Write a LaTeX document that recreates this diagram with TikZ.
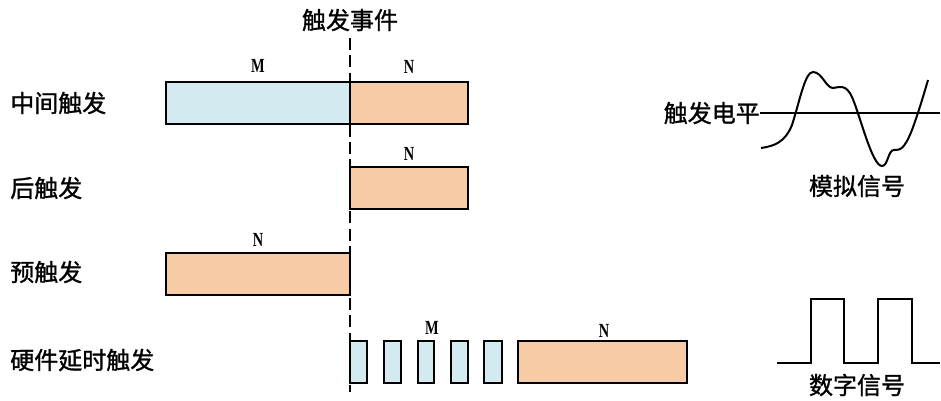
\documentclass[tikz,border=0pt]{standalone}
\usepackage{fontspec}
\newfontfamily\cjk[FakeBold=1.2]{Noto Sans CJK SC}
\setmainfont{Liberation Serif}
\newfontfamily\mnfont[FakeStretch=0.72]{Liberation Serif}
\begin{document}
\begin{tikzpicture}[x=0.75pt,y=-0.75pt,
  lbl/.style={font=\cjk\fontsize{18}{20}\selectfont, inner sep=0pt},
  ltr/.style={font=\mnfont\bfseries\fontsize{15}{16}\selectfont, inner sep=0pt},
  mblk/.style={draw=black, line width=1.4pt, fill=mblue, inner sep=0pt},
  nblk/.style={draw=black, line width=1.4pt, fill=norange, inner sep=0pt},
  sig/.style={line width=1.5pt}]
\definecolor{mblue}{HTML}{D2EAF0}
\definecolor{norange}{HTML}{F8CBA7}
\useasboundingbox (0,0) rectangle (941,400);
% row 1
\node[mblk, minimum width=184*0.75pt, minimum height=42*0.75pt] (m1) at (258,103) {};
\node[nblk, minimum width=118*0.75pt, minimum height=42*0.75pt] (n1) at (409,103) {};
\node[ltr] (m1l) at (258,66) {M};
\node[ltr] (n1l) at (409,67) {N};
\node[lbl, anchor=west] (r1) at (10,103) {中间触发};
% row 2
\node[nblk, minimum width=118*0.75pt, minimum height=42*0.75pt] (n2) at (409,188) {};
\node[ltr] (n2l) at (409,154) {N};
\node[lbl, anchor=west] (r2) at (10,188) {后触发};
% row 3
\node[nblk, minimum width=184*0.75pt, minimum height=42*0.75pt] (n3) at (258,274) {};
\node[ltr] (n3l) at (258,240) {N};
\node[lbl, anchor=west] (r3) at (10,272) {预触发};
% row 4
\foreach \i/\xa/\xb in {1/350/367,2/384/401,3/418/434,4/451/468,5/484/502}{
  \node[mblk, minimum width={(\xb-\xa)*0.75pt}, minimum height=42*0.75pt] (s\i) at ({(\xa+\xb)/2},362) {};
}
\node[nblk, minimum width=169*0.75pt, minimum height=42*0.75pt] (n4) at (602.5,362) {};
\node[ltr] (m4l) at (432,328) {M};
\node[ltr] (n4l) at (604,331) {N};
\node[lbl, anchor=west] (r4) at (10,360) {硬件延时触发};
% trigger event
\node[lbl] (ev) at (350,20) {触发事件};
\coordinate (dt) at (350,38);
\coordinate (db) at (350,392);
\draw[line width=1.3pt, dash pattern=on 9pt off 4pt] (dt) -- (db);
% analog
\node[lbl, anchor=east] (tl) at (760,113) {触发电平};
\coordinate (tle) at (940,113);
\draw[line width=2pt] (tl.east) -- (tle);
\draw[sig] (761,148) .. controls (775,146) and (785,142) .. (792,125)
  .. controls (800,100) and (805,72) .. (813,72)
  .. controls (822,72) and (826,88) .. (833,88)
  .. controls (840,87) and (846,84) .. (852,97)
  .. controls (860,115) and (872,166) .. (882,166)
  .. controls (888,166) and (888,150) .. (894,150)
  .. controls (900,150) and (904,150) .. (912,130)
  .. controls (920,108) and (925,90) .. (928,80);
\node[lbl] (an) at (857,186) {模拟信号};
% digital
\draw[sig] (777,363) -- (811,363) -- (811,299) -- (844,299) -- (844,363) -- (878,363) -- (878,299) -- (912,299) -- (912,363) -- (940,363);
\node[lbl] (dg) at (857,385) {数字信号};
\end{tikzpicture}
\end{document}
